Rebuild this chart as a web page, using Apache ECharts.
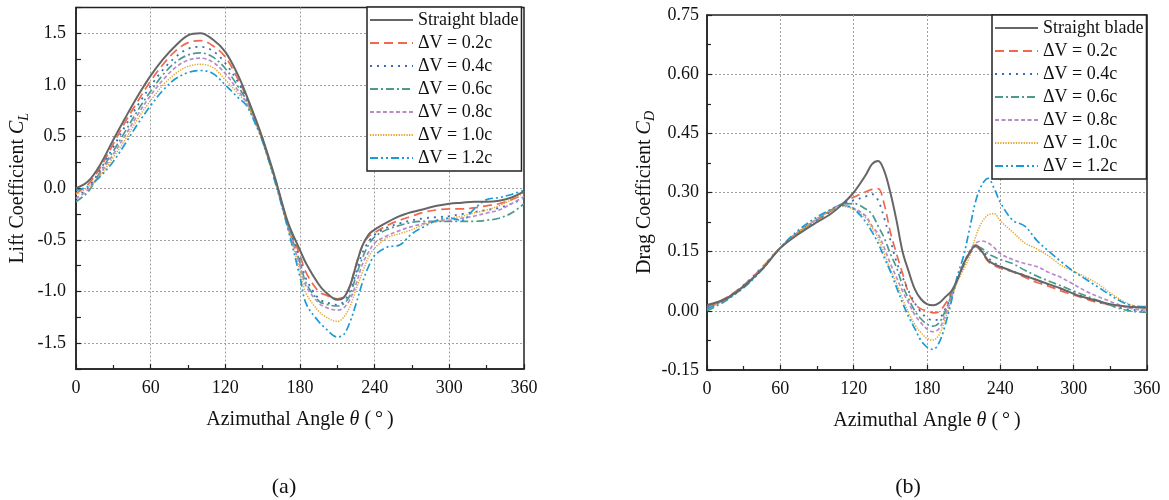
<!DOCTYPE html>
<html><head><meta charset="utf-8">
<script src="https://cdn.jsdelivr.net/npm/echarts@6/dist/echarts.min.js"></script>
<style>html,body{margin:0;padding:0;background:#fff}#c{width:1169px;height:500px}</style>
</head><body><div id="c"></div>
<script>
const FONT = '"Liberation Serif","DejaVu Serif",serif';
const seriesNames = ['Straight blade','ΔV = 0.2c','ΔV = 0.4c','ΔV = 0.6c','ΔV = 0.8c','ΔV = 1.0c','ΔV = 1.2c'];
const xTicks = [0, 60, 120, 180, 240, 300, 360];

// Lift coefficient (a)
const thetaLift = [0,10,20,30,40,50,60,70,80,90,100,110,120,130,137,145,150,160,170,180,185,195,200,210,215,220,225,230,235,240,250,260,270,280,290,300,310,320,330,340,350,360];
const liftStraight = [0.00,0.07,0.24,0.47,0.69,0.90,1.09,1.25,1.38,1.48,1.50,1.44,1.32,1.10,0.90,0.65,0.48,0.10,-0.32,-0.60,-0.73,-0.93,-1.00,-1.08,-1.06,-0.95,-0.75,-0.56,-0.45,-0.40,-0.33,-0.27,-0.23,-0.20,-0.17,-0.15,-0.14,-0.13,-0.13,-0.12,-0.09,-0.03];
const lift02 = [-0.05,0.04,0.21,0.43,0.65,0.85,1.04,1.20,1.33,1.41,1.43,1.38,1.27,1.06,0.88,0.64,0.47,0.09,-0.33,-0.65,-0.82,-1.00,-1.03,-1.07,-1.05,-0.95,-0.74,-0.56,-0.47,-0.43,-0.36,-0.31,-0.27,-0.23,-0.21,-0.20,-0.20,-0.19,-0.17,-0.15,-0.11,-0.06];
const lift04 = [-0.09,0.01,0.19,0.40,0.61,0.81,0.99,1.15,1.27,1.35,1.37,1.33,1.21,1.03,0.87,0.63,0.47,0.08,-0.34,-0.69,-0.88,-1.07,-1.10,-1.13,-1.10,-1.00,-0.82,-0.63,-0.52,-0.45,-0.38,-0.34,-0.31,-0.29,-0.28,-0.27,-0.25,-0.23,-0.21,-0.19,-0.15,-0.10];
const lift06 = [-0.13,-0.03,0.17,0.36,0.56,0.76,0.94,1.10,1.22,1.29,1.31,1.27,1.16,0.99,0.85,0.62,0.46,0.08,-0.35,-0.72,-0.92,-1.09,-1.12,-1.14,-1.12,-1.04,-0.85,-0.68,-0.55,-0.47,-0.40,-0.36,-0.33,-0.32,-0.32,-0.32,-0.32,-0.32,-0.31,-0.29,-0.24,-0.15];
const lift08 = [-0.10,-0.01,0.15,0.33,0.52,0.72,0.90,1.05,1.17,1.24,1.26,1.22,1.11,0.95,0.83,0.62,0.46,0.07,-0.36,-0.75,-0.95,-1.11,-1.15,-1.18,-1.16,-1.08,-0.93,-0.74,-0.62,-0.53,-0.46,-0.41,-0.37,-0.34,-0.32,-0.31,-0.29,-0.27,-0.24,-0.21,-0.15,-0.08];
const lift10 = [-0.06,0.01,0.13,0.30,0.48,0.68,0.85,1.00,1.11,1.18,1.20,1.17,1.05,0.92,0.82,0.61,0.45,0.07,-0.37,-0.80,-1.02,-1.19,-1.24,-1.29,-1.25,-1.15,-0.98,-0.82,-0.67,-0.58,-0.48,-0.44,-0.40,-0.35,-0.32,-0.29,-0.27,-0.24,-0.21,-0.17,-0.11,-0.04];
const lift12 = [-0.02,0.02,0.12,0.26,0.44,0.63,0.80,0.95,1.06,1.12,1.14,1.11,1.00,0.88,0.80,0.60,0.45,0.06,-0.38,-0.86,-1.12,-1.29,-1.35,-1.44,-1.42,-1.30,-1.12,-0.92,-0.76,-0.65,-0.57,-0.55,-0.44,-0.37,-0.31,-0.29,-0.31,-0.20,-0.11,-0.09,-0.06,-0.02];

// Drag coefficient (b)
const thetaDrag = [0,15,30,45,60,75,90,100,110,120,130,135,140,145,150,155,160,165,170,175,180,185,190,195,200,205,210,215,220,225,230,235,240,250,260,270,280,290,300,310,320,330,340,350,360];
const dragStraight = [0.015,0.030,0.062,0.105,0.159,0.195,0.225,0.243,0.268,0.300,0.345,0.372,0.380,0.355,0.300,0.230,0.150,0.100,0.055,0.030,0.017,0.014,0.020,0.035,0.050,0.080,0.120,0.148,0.166,0.150,0.128,0.118,0.112,0.100,0.089,0.078,0.067,0.056,0.043,0.033,0.025,0.017,0.012,0.009,0.008];
const drag02 = [0.010,0.032,0.065,0.110,0.160,0.200,0.230,0.250,0.270,0.288,0.302,0.308,0.310,0.270,0.200,0.145,0.095,0.045,0.018,0.005,0.000,-0.005,-0.002,0.018,0.045,0.080,0.115,0.145,0.162,0.148,0.125,0.115,0.108,0.099,0.085,0.072,0.062,0.050,0.040,0.030,0.021,0.016,0.012,0.010,0.008];
const drag04 = [0.008,0.030,0.065,0.110,0.160,0.200,0.230,0.250,0.270,0.280,0.290,0.296,0.280,0.235,0.180,0.125,0.085,0.050,0.020,-0.003,-0.018,-0.024,-0.020,0.005,0.040,0.080,0.118,0.148,0.164,0.155,0.135,0.122,0.113,0.100,0.090,0.078,0.066,0.055,0.045,0.033,0.023,0.014,0.006,0.002,0.000];
const drag06 = [0.000,0.025,0.060,0.105,0.160,0.200,0.232,0.252,0.270,0.272,0.258,0.245,0.215,0.185,0.145,0.110,0.065,0.030,0.000,-0.020,-0.034,-0.039,-0.030,0.000,0.040,0.080,0.118,0.148,0.165,0.158,0.145,0.137,0.130,0.120,0.103,0.088,0.075,0.063,0.050,0.038,0.026,0.014,0.004,-0.002,-0.004];
const drag08 = [0.005,0.030,0.063,0.108,0.160,0.200,0.233,0.253,0.268,0.260,0.240,0.215,0.195,0.160,0.120,0.085,0.050,0.020,-0.010,-0.030,-0.046,-0.053,-0.045,-0.010,0.035,0.080,0.120,0.152,0.172,0.177,0.172,0.160,0.145,0.130,0.120,0.112,0.097,0.084,0.067,0.050,0.036,0.024,0.012,0.004,0.002];
const drag10 = [0.005,0.030,0.063,0.108,0.160,0.200,0.233,0.253,0.265,0.258,0.235,0.210,0.185,0.145,0.105,0.070,0.030,-0.005,-0.035,-0.055,-0.070,-0.074,-0.060,-0.020,0.030,0.075,0.105,0.140,0.190,0.225,0.243,0.246,0.228,0.200,0.172,0.157,0.138,0.115,0.100,0.085,0.068,0.045,0.025,0.012,0.008];
const drag12 = [0.005,0.028,0.058,0.105,0.160,0.205,0.238,0.255,0.268,0.258,0.225,0.200,0.172,0.135,0.100,0.060,0.020,-0.015,-0.045,-0.075,-0.092,-0.098,-0.080,-0.035,0.025,0.090,0.140,0.210,0.280,0.320,0.336,0.310,0.275,0.230,0.215,0.178,0.150,0.124,0.100,0.080,0.060,0.040,0.022,0.012,0.011];

const liftSets = [liftStraight, lift02, lift04, lift06, lift08, lift10, lift12];
const dragSets = [dragStraight, drag02, drag04, drag06, drag08, drag10, drag12];

const styles = [
  {color:'#666666', type:'solid', width:2},
  {color:'#f0694e', type:[9,5], width:1.7},
  {color:'#3a6db5', type:[2,5], width:1.8},
  {color:'#4b9a8c', type:[8,3,2,3], width:1.7},
  {color:'#b98ac8', type:[4,2.5], width:1.7},
  {color:'#e2a72e', type:[1.3,1.3], width:1.5},
  {color:'#1a9ad6', type:[8,3,2,3,2,3], width:1.7}
];

const gridColor = '#a0a0a0';
function xAxisCfg(gi){
  return {
    type:'value', gridIndex:gi, min:0, max:360, interval:60,
    name:'{n|Azimuthal Angle }{i|θ}{n| (\u2009°\u2009)}', nameLocation:'middle', nameGap:41,
    nameTextStyle:{rich:{n:{fontFamily:FONT,fontSize:20,color:'#111'},i:{fontFamily:FONT,fontSize:20,fontStyle:'italic',color:'#111'}}},
    axisLine:{show:true,onZero:false,lineStyle:{color:'#222',width:1.5}},
    axisTick:{show:true,inside:true,length:5,lineStyle:{color:'#222',width:1.2}},
    minorTick:{show:true,splitNumber:2,length:4,lineStyle:{color:'#222',width:1.2}},
    axisLabel:{fontFamily:FONT,fontSize:18,color:'#111',margin:10,
      formatter:v=>xTicks.includes(v)?String(v):''},
    splitLine:{show:true,showMinLine:false,showMaxLine:false,lineStyle:{color:gridColor,type:[2,2],width:1}}
  };
}

function legendCfg(left, top){
  return {data:seriesNames, orient:'vertical', left:left, top:top, itemWidth:43, itemHeight:14, itemGap:5,
    padding:[4,3,4,2], borderColor:'#222', borderWidth:1.5, backgroundColor:'#fff',
    itemStyle:{opacity:0, color:'rgba(0,0,0,0)', borderWidth:0},
    textStyle:{fontFamily:FONT,fontSize:18,color:'#111'}};
}

const option = {
  backgroundColor:'#fff',
  animation:false,
  grid:[
    {left:76,top:7.5,width:448,height:361.5,show:true,borderColor:'#222',borderWidth:1.5,containLabel:false},
    {left:707,top:15,width:440,height:355,show:true,borderColor:'#222',borderWidth:1.5,containLabel:false}
  ],
  xAxis:[xAxisCfg(0), xAxisCfg(1)],
  yAxis:[
    {type:'value', gridIndex:0, min:-1.75, max:1.75, interval:0.25,
     name:'{n|Lift Coefficient }{i|C}{s|L}', nameLocation:'middle', nameGap:45,
     nameTextStyle:{rich:{n:{fontFamily:FONT,fontSize:20,color:'#111'},i:{fontFamily:FONT,fontSize:20,fontStyle:'italic',color:'#111'},s:{fontFamily:FONT,fontSize:14,fontStyle:'italic',color:'#111',padding:[12,0,0,0]}}},
     axisLine:{show:true,onZero:false,lineStyle:{color:'#222',width:1.5}},
     axisTick:{show:true,inside:true,length:5,lineStyle:{color:'#222',width:1.2}},
     axisLabel:{fontFamily:FONT,fontSize:18,color:'#111',margin:10,
       formatter:v=>{const d=v*2; if(Math.abs(d-Math.round(d))<1e-6 && Math.abs(v)<1.7) return v.toFixed(1); return '';}},
     splitLine:{show:true,lineStyle:{color:['rgba(0,0,0,0)',gridColor],type:[2,2],width:1}}
    },
    {type:'value', gridIndex:1, min:-0.15, max:0.75, interval:0.15,
     name:'{n|Drag Coefficient }{i|C}{s|D}', nameLocation:'middle', nameGap:46,
     nameTextStyle:{rich:{n:{fontFamily:FONT,fontSize:20,color:'#111'},i:{fontFamily:FONT,fontSize:20,fontStyle:'italic',color:'#111'},s:{fontFamily:FONT,fontSize:14,fontStyle:'italic',color:'#111',padding:[12,0,0,0]}}},
     axisLine:{show:true,onZero:false,lineStyle:{color:'#222',width:1.5}},
     axisTick:{show:true,inside:true,length:5,lineStyle:{color:'#222',width:1.2}},
     minorTick:{show:true,splitNumber:2,length:4,lineStyle:{color:'#222',width:1.2}},
     axisLabel:{fontFamily:FONT,fontSize:18,color:'#111',margin:8,formatter:v=>v.toFixed(2)},
     splitLine:{show:true,showMinLine:false,showMaxLine:false,lineStyle:{color:gridColor,type:[2,2],width:1}}
    }
  ],
  legend:[legendCfg(367,7), legendCfg(992,15)],
  graphic:[
    {type:'text', x:284, y:487, style:{text:'(a)', font:'22px "Liberation Serif"', fill:'#111', align:'center', verticalAlign:'middle'}},
    {type:'text', x:908, y:487, style:{text:'(b)', font:'22px "Liberation Serif"', fill:'#111', align:'center', verticalAlign:'middle'}}
  ],
  series:[]
};

seriesNames.forEach((nm,k)=>{
  option.series.push({name:nm, type:'line', xAxisIndex:0, yAxisIndex:0, symbol:'none', smooth:0.35,
    lineStyle:styles[k], itemStyle:{color:styles[k].color}, z: k===0?3:2,
    data: thetaLift.map((t,i)=>[t, liftSets[k][i]])});
});
seriesNames.forEach((nm,k)=>{
  option.series.push({name:nm, type:'line', xAxisIndex:1, yAxisIndex:1, symbol:'none', smooth:0.35,
    lineStyle:styles[k], itemStyle:{color:styles[k].color}, z: k===0?3:2,
    data: thetaDrag.map((t,i)=>[t, dragSets[k][i]])});
});

const chart = echarts.init(document.getElementById('c'), null, {renderer:'canvas'});
chart.setOption(option);
</script>
</body></html>
